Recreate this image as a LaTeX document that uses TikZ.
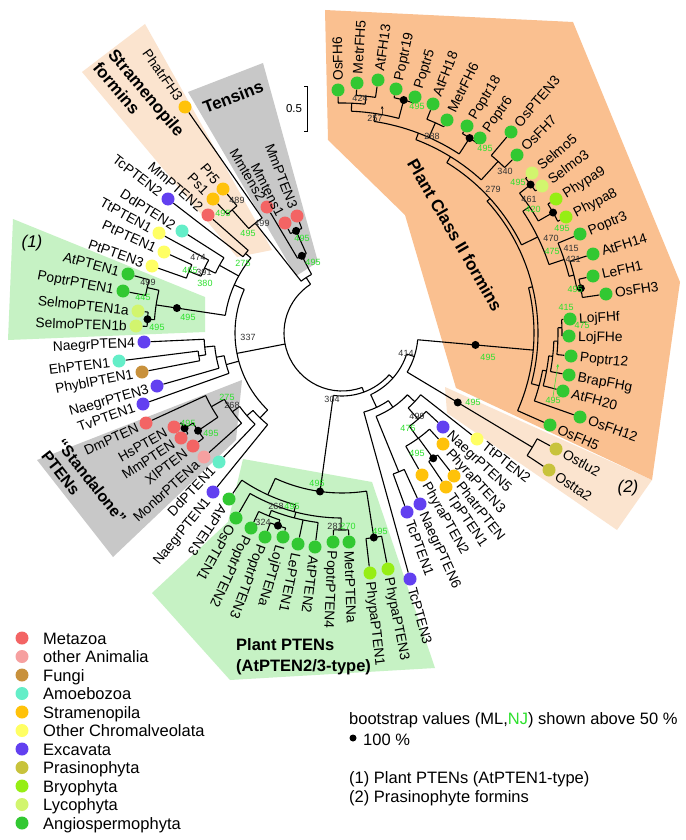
\documentclass[tikz,border=0pt]{standalone}
\usepackage{fontspec}
\setmainfont{Liberation Sans}
\usetikzlibrary{arrows.meta}
\pgfdeclarelayer{back}
\pgfdeclarelayer{mid}
\pgfsetlayers{back,mid,main}
\definecolor{cMet}{RGB}{243,100,100}
\definecolor{cOani}{RGB}{246,160,160}
\definecolor{cFun}{RGB}{200,145,60}
\definecolor{cAmo}{RGB}{100,238,200}
\definecolor{cStr}{RGB}{255,194,10}
\definecolor{cChr}{RGB}{255,255,100}
\definecolor{cExc}{RGB}{98,64,240}
\definecolor{cPra}{RGB}{200,195,60}
\definecolor{cBry}{RGB}{150,238,20}
\definecolor{cLyc}{RGB}{210,245,110}
\definecolor{cAng}{RGB}{50,200,50}
\definecolor{cNJ}{RGB}{45,225,45}
\definecolor{cOrange}{RGB}{250,192,144}
\definecolor{cPeach}{RGB}{251,228,207}
\definecolor{cGrey}{RGB}{200,200,200}
\definecolor{cLGreen}{RGB}{198,242,196}
\newcommand{\tcx}{342}
\newcommand{\tcy}{333}
\tikzset{
 tipdot/.style={circle,inner sep=0pt,minimum size=13pt,draw=none},
 bdot/.style={circle,inner sep=0pt,minimum size=8pt,fill=black},
 branch/.style={line width=1.1pt,black},
 leaflab/.style={inner sep=0pt,text height=9.9pt,text depth=0pt,font=\fontsize{13.8}{15}\selectfont},
 bs/.style={inner sep=0pt,font=\fontsize{9}{10}\selectfont,text=black!80},
 bsg/.style={bs,text=cNJ},
 legtxt/.style={inner sep=0pt,font=\fontsize{16.5}{19}\selectfont},
 grp/.style={inner sep=0pt,font=\bfseries\fontsize{17}{20}\selectfont},
}
\newcommand{\leaf}[5]{%
 \pgfmathsetmacro\la{atan2((#3)-\tcy,(#2)-\tcx)}%
 \pgfmathsetmacro\la{\la+360*((\la)<-100)}%
 \expandafter\xdef\csname NA#1\endcsname{\la}%
 \node[tipdot,fill=#4] (#1) at (#2,#3) {};%
 \ifdim\la pt<127pt
  \pgfmathsetmacro\rot{0-(\la)}%
  \node[leaflab,anchor=west,rotate=\rot] (lab#1) at ({#2+9*cos(\la)},{#3+9*sin(\la)}) {#5};%
 \else
  \pgfmathsetmacro\rot{180-(\la)}%
  \node[leaflab,anchor=east,rotate=\rot] (lab#1) at ({#2+9*cos(\la)},{#3+9*sin(\la)}) {#5};%
 \fi
}
\newcommand{\inode}[4][]{%
 \gdef\amin{1000}\gdef\amax{-1000}%
 \foreach \ch in {#4}{%
  \pgfmathsetmacro\tA{\csname NA\ch\endcsname}%
  \pgfmathsetmacro\mn{min(\amin,\tA)}\xdef\amin{\mn}%
  \pgfmathsetmacro\mx{max(\amax,\tA)}\xdef\amax{\mx}%
 }%
 \pgfmathsetmacro\amid{(\amin+\amax)/2}%
 \expandafter\xdef\csname NA#2\endcsname{\amid}%
 \coordinate (#2) at ({\tcx+#3*cos(\amid)},{\tcy+#3*sin(\amid)});%
 \begin{pgfonlayer}{mid}%
 \draw[branch] ({\tcx+#3*cos(\amin)},{\tcy+#3*sin(\amin)}) arc[start angle=\amin,end angle=\amax,radius=#3];%
 \foreach \ch in {#4}{%
  \pgfmathsetmacro\tA{\csname NA\ch\endcsname}%
  \draw[branch] ({\tcx+#3*cos(\tA)},{\tcy+#3*sin(\tA)}) -- (\ch);%
 }%
 \end{pgfonlayer}%
 \ifx\relax#1\relax\else\node[bdot] (d#2) at (#2) {};\fi
}
\newcommand{\sdot}[2]{%
 \pgfmathsetmacro\sa{\csname NA#1\endcsname}%
 \node[bdot] (s#1) at ({\tcx+#2*cos(\sa)},{\tcy+#2*sin(\sa)}) {};%
}
\begin{document}
\begin{tikzpicture}[x=1pt,y=-1pt]
\useasboundingbox (0,0) rectangle (685,840);
\begin{pgfonlayer}{back}
\fill[white] (0,0) rectangle (685,840);
\fill[cPeach] (445,387) -- (652,480) -- (617,530) -- (447,413) -- cycle;
\fill[cOrange] (325,10) -- (573,22) -- (680,282) -- (652,480) -- (456,388) -- (405,215) -- (328,140) -- cycle;
\fill[cPeach] (82,72) -- (145,24) -- (272,250) -- (237,257) -- cycle;
\fill[cGrey] (188,92) -- (263,63) -- (318,262) -- (296,276) -- cycle;
\fill[cLGreen] (13,219) -- (205,297) -- (205,332) -- (8,340) -- cycle;
\fill[cGrey] (37,460) -- (242,380) -- (236,440) -- (113,557) -- cycle;
\fill[cLGreen] (243,459) -- (372,482) -- (435,668) -- (230,680) -- (152,593) -- (228,522) -- cycle;
\end{pgfonlayer}

% leaves
\leaf{OsFHsix}{338}{90}{cAng}{OsFH6}
\leaf{MetrFHfive}{357}{83}{cAng}{MetrFH5}
\leaf{AtFHthirteen}{378}{80}{cAng}{AtFH13}
\leaf{Poptrnineteen}{396}{89}{cAng}{Poptr19}
\leaf{Poptrfive}{415}{97}{cAng}{Poptr5}
\leaf{AtFHeighteen}{433}{104}{cAng}{AtFH18}
\leaf{MetrFHsix}{447}{120}{cAng}{MetrFH6}
\leaf{Poptreighteen}{467}{126}{cAng}{Poptr18}
\leaf{Poptrsix}{480}{138}{cAng}{Poptr6}
\leaf{OsPTENthree}{511}{132}{cAng}{OsPTEN3}
\leaf{OsFHseven}{517}{155}{cAng}{OsFH7}
\leaf{Selmofive}{532}{173}{cLyc}{Selmo5}
\leaf{Selmothree}{542}{186}{cLyc}{Selmo3}
\leaf{Phypanine}{556}{199}{cBry}{Phypa9}
\leaf{Phypaeight}{566}{217}{cBry}{Phypa8}
\leaf{Poptrthree}{580}{234}{cAng}{Poptr3}
\leaf{AtFHfourteen}{593}{254}{cAng}{AtFH14}
\leaf{LeFHone}{593}{276}{cAng}{LeFH1}
\leaf{OsFHthree}{606}{294}{cAng}{OsFH3}
\leaf{LojFHf}{570}{319}{cAng}{LojFHf}
\leaf{LojFHe}{569}{336}{cAng}{LojFHe}
\leaf{Poptrtwelve}{571}{356}{cAng}{Poptr12}
\leaf{BrapFHg}{569}{375}{cAng}{BrapFHg}
\leaf{AtFHtwenty}{563}{391}{cAng}{AtFH20}
\leaf{OsFHtwelve}{580}{417}{cAng}{OsFH12}
\leaf{OsFHfive}{550}{425}{cAng}{OsFH5}
\leaf{Ostlutwo}{556}{449}{cPra}{Ostlu2}
\leaf{Osttatwo}{549}{470}{cPra}{Ostta2}
\leaf{TtPTENtwo}{477}{439}{cChr}{TtPTEN2}
\leaf{NaegrPTENfive}{443}{427}{cExc}{NaegrPTEN5}
\leaf{PhyraPTENthree}{443}{444}{cStr}{PhyraPTEN3}
\leaf{PhatrPTEN}{454}{476}{cStr}{PhatrPTEN}
\leaf{TpPTENone}{446}{487}{cStr}{TpPTEN1}
\leaf{PhyraPTENtwo}{422}{475}{cStr}{PhyraPTEN2}
\leaf{NaegrPTENsix}{420}{504}{cExc}{NaegrPTEN6}
\leaf{TcPTENone}{407}{512}{cExc}{TcPTEN1}
\leaf{TcPTENthree}{410}{579}{cExc}{TcPTEN3}
\leaf{PhypaPTENthree}{388}{569}{cBry}{PhypaPTEN3}
\leaf{PhypaPTENone}{370}{573}{cBry}{PhypaPTEN1}
\leaf{MetrPTENa}{349}{542}{cAng}{MetrPTENa}
\leaf{PoptrPTENfour}{333}{542}{cAng}{PoptrPTEN4}
\leaf{AtPTENtwo}{315}{547}{cAng}{AtPTEN2}
\leaf{LePTENone}{298}{544}{cAng}{LePTEN1}
\leaf{LojPTENa}{283}{537}{cAng}{LojPTENa}
\leaf{PoptrPTENthree}{265}{537}{cAng}{PoptrPTEN3}
\leaf{PoptrPTENtwo}{251}{528}{cAng}{PoptrPTEN2}
\leaf{OsPTENone}{236}{518}{cAng}{OsPTEN1}
\leaf{AtPTENthree}{229}{499}{cAng}{AtPTEN3}
\leaf{NaegrPTENone}{213}{492}{cExc}{NaegrPTEN1}
\leaf{DdPTENone}{219}{462}{cAmo}{DdPTEN1}
\leaf{MonbrPTENa}{204}{457}{cOani}{MonbrPTENa}
\leaf{XlPTEN}{193}{446}{cMet}{XlPTEN}
\leaf{MmPTEN}{181}{438}{cMet}{MmPTEN}
\leaf{HsPTEN}{174}{427}{cMet}{HsPTEN}
\leaf{DmPTEN}{146}{423}{cMet}{DmPTEN}
\leaf{TvPTENone}{143}{404}{cExc}{TvPTEN1}
\leaf{NaegrPTENthree}{157}{386}{cExc}{NaegrPTEN3}
\leaf{PhyblPTENone}{142}{372}{cFun}{PhyblPTEN1}
\leaf{EhPTENone}{119}{361}{cAmo}{EhPTEN1}
\leaf{NaegrPTENfour}{144}{342}{cExc}{NaegrPTEN4}
\leaf{SelmoPTENoneb}{136}{326}{cLyc}{SelmoPTEN1b}
\leaf{SelmoPTENonea}{138}{311}{cLyc}{SelmoPTEN1a}
\leaf{PoptrPTENone}{123}{291}{cAng}{PoptrPTEN1}
\leaf{AtPTENone}{128}{274}{cAng}{AtPTEN1}
\leaf{PtPTENthree}{152}{266}{cChr}{PtPTEN3}
\leaf{PtPTENone}{164}{252}{cChr}{PtPTEN1}
\leaf{TtPTENone}{159}{233}{cChr}{TtPTEN1}
\leaf{DdPTENtwo}{182}{231}{cAmo}{DdPTEN2}
\leaf{TcPTENtwo}{168}{199}{cExc}{TcPTEN2}
\leaf{MmPTENtwo}{208}{215}{cMet}{MmPTEN2}
\leaf{Psone}{213}{199}{cStr}{Ps1}
\leaf{Prfive}{223}{189}{cStr}{Pr5}
\leaf{PhatrFHthree}{185}{107}{cStr}{PhatrFH3}
\leaf{Mmtenstwo}{267}{207}{cMet}{Mmtens2}
\leaf{Mmtensone}{285}{223}{cMet}{Mmtens1}
\leaf{MmPTENthree}{297}{216}{cMet}{MmPTEN3}

% tensins and stramenopile formins
\inode[b]{nTone}{112}{Mmtensone,MmPTENthree}
\inode[b]{nTtwo}{87}{Mmtenstwo,nTone}
\inode{nSone}{165}{Psone,Prfive}
\inode{nStwo}{140}{nSone,PhatrFHthree}
\inode{nXone}{66}{nStwo,nTtwo}
% left part
\inode{tm}{125}{TcPTENtwo,MmPTENtwo}
\inode{cione}{165}{PtPTENthree,PtPTENone}
\inode{citwo}{152}{cione,TtPTENone}
\inode{cithree}{140}{citwo,DdPTENtwo}
\inode[b]{conea}{195}{SelmoPTENoneb,SelmoPTENonea}
\inode{coneb}{200}{PoptrPTENone,AtPTENone}
\inode{conec}{188}{conea,coneb}
\sdot{conec}{167}
\inode{Lone}{118}{conec,cithree,tm}
\inode{eone}{145}{PhyblPTENone,EhPTENone}
\inode{etwo}{138}{eone,NaegrPTENfour}
\inode{ethree}{128}{NaegrPTENthree,etwo}
\inode{efour}{120}{TvPTENone,ethree}
\inode[b]{mone}{184}{MmPTEN,HsPTEN}
\inode[b]{mtwo}{174}{XlPTEN,mone}
\inode{mthree}{150}{mtwo,DmPTEN}
\inode{mfour}{135}{MonbrPTENa,mthree}
\inode{mfive}{126}{DdPTENone,mfour}
\inode{msix}{118}{NaegrPTENone,mfive}
\inode{nthreethreeseven}{107}{msix,efour,Lone}
% plant PTENs
\inode[b]{nQtwo}{203}{PoptrPTENthree,LojPTENa}
\inode{nQthree}{197}{PoptrPTENtwo,nQtwo}
\inode{nQfour}{191}{AtPTENtwo,LePTENone,nQthree}
\inode{nQfive}{197}{MetrPTENa,PoptrPTENfour}
\inode{nQsix}{185}{nQfive,nQfour,OsPTENone}
\inode{nQseven}{178}{nQsix,AtPTENthree}
\inode[b]{nQeight}{207}{PhypaPTENthree,PhypaPTENone}
\inode[b]{nQnine}{160}{nQeight,nQseven}
% right-bottom
\inode[b]{rone}{155}{PhatrPTEN,TpPTENone}
\inode{rtwo}{130}{PhyraPTENthree,rone,PhyraPTENtwo}
\inode{rthree}{115}{NaegrPTENfive,rtwo}
\inode{rfour}{100}{TtPTENtwo,rthree}
\inode{rfive}{150}{NaegrPTENsix,TcPTENone}
\inode{rsix}{90}{rfour,rfive}
\inode{rseven}{82}{rsix,TcPTENthree}
% formins
\inode{fa}{238}{MetrFHfive,AtFHthirteen}
\inode{fb}{230}{OsFHsix,fa}
\inode[b]{fc}{241}{Poptrnineteen,Poptrfive}
\inode{fone}{222}{fb,fc}
\inode{fd}{230}{AtFHeighteen,MetrFHsix}
\inode[b]{fe}{233}{Poptreighteen,Poptrsix}
\inode{ftwo}{214}{fone,fd,fe}
\inode{ff}{232}{OsPTENthree,OsFHseven}
\inode{fthree}{207}{ftwo,ff}
\inode[b]{fg}{240}{Selmofive,Selmothree}
\inode[b]{fh}{243}{Phypanine,Phypaeight}
\inode{ffour}{226}{fg,fh}
\inode[b]{fione}{243}{LeFHone,OsFHthree}
\inode{fitwo}{239}{AtFHfourteen,fione}
\inode{fithree}{234}{Poptrthree,fitwo}
\inode{ffive}{218}{ffour,fithree}
\inode{fsix}{200}{fthree,ffive}
\inode{fj}{220}{LojFHf,LojFHe}
\inode{fk}{216}{fj,Poptrtwelve}
\inode{fl}{212}{fk,BrapFHg}
\inode{fm}{208}{fl,AtFHtwenty}
\inode{fn}{204}{fm,OsFHtwelve}
\inode{fseven}{196}{fsix,fn}
\inode{feight}{192}{fseven,OsFHfive}
\inode{pone}{222}{Ostlutwo,Osttatwo}
\inode{nfouronefour}{76}{feight,pone}
\sdot{feight}{134}
\sdot{pone}{135}
\inode{nB}{68}{nfouronefour,rseven}
\inode{nthreezerofour}{63}{nB,nQnine}
\inode{root}{58}{nthreezerofour,nthreethreeseven,nXone}

% bootstrap values
\foreach \x/\y/\t [count=\i] in {360/98/424,375/118/257,432/136/288,505/171/340,493/189/279,529/199/461,551/238/470,571/248/415,573/259/421,406/353/414,332/399/304,248/337/337,417/416/499,262/223/499,237/200/489,198/257/474,204/272/391,148/282/499,232/405/268,276/506/268,263/522/324,335/526/281}
  \node[bs] (bk\i) at (\x,\y) {\t};
\foreach \x/\y/\t [count=\i] in {417/106/495,485/148/495,518/182/495,533/209/420,562/228/495,552/251/475,575/289/495,566/307/415,582/325/475,553/400/495,488/357/495,473/402/495,408/428/475,417/453/495,317/483/495,292/506/495,348/526/270,380/531/495,248/233/495,223/213/495,302/238/495,313/262/495,243/263/275,190/270/465,205/283/380,143/297/445,188/317/495,157/327/495,188/423/495,211/433/495,227/397/275}
  \node[bsg] (bg\i) at (\x,\y) {\t};
\coordinate (arA) at (382,106);
\draw[line width=0.5pt,-{Stealth[length=3pt,width=2.5pt]}] (bk2.north east) -- (arA);
\coordinate (arB) at (558,364);
\draw[cNJ,line width=0.5pt,-{Stealth[length=3pt,width=2.5pt]}] (bg10.north) -- (arB);

% scale bar
\coordinate (sbA) at (304,86);
\coordinate (sbB) at (307,86);
\coordinate (sbC) at (307,131);
\coordinate (sbD) at (304,131);
\draw[line width=0.9pt] (sbA) -- (sbB) -- (sbC) -- (sbD);
\node[inner sep=0pt,font=\fontsize{11.5}{12}\selectfont] (sbl) at (294,109) {0.5};

% group labels
\node[grp,rotate=21] (gTen) at (233,97) {Tensins};
\node[grp,rotate=-50,align=left] (gStr) at (139,99) {Stramenopile\\formins};
\node[grp,rotate=-60] (gPlant) at (455,235) {Plant Class II formins};
\node[grp,rotate=-52,align=left,font=\bfseries\fontsize{16}{19}\selectfont] (gStd) at (84,487) {“Standalone”\\PTENs};
\node[grp,anchor=base west,font=\bfseries\fontsize{16.5}{19}\selectfont] (gPa) at (236,650) {Plant PTENs};
\node[grp,anchor=base west,font=\bfseries\fontsize{16.5}{19}\selectfont] (gPb) at (236,671) {(AtPTEN2/3-type)};
\node[inner sep=0pt,font=\itshape\fontsize{17}{20}\selectfont] (gone) at (32,243) {(1)};
\node[inner sep=0pt,font=\itshape\fontsize{17}{20}\selectfont] (gtwo) at (628,488) {(2)};

% legend
\foreach \col/\txt [count=\i from 0] in {cMet/Metazoa,cOani/other Animalia,cFun/Fungi,cAmo/Amoebozoa,cStr/Stramenopila,cChr/Other Chromalveolata,cExc/Excavata,cPra/Prasinophyta,cBry/Bryophyta,cLyc/Lycophyta,cAng/Angiospermophyta}{
  \node[tipdot,fill=\col] (lg\i) at (22,{638+18.5*\i}) {};
  \node[legtxt,anchor=base west] (lt\i) at (43,{644+18.5*\i}) {\txt};
}
\node[legtxt,anchor=base west] (bstext) at (349,724) {bootstrap values (ML,\textcolor{cNJ}{NJ}) shown above 50 \%};
\node[bdot,minimum size=7pt] (legdot) at (353,738) {};
\node[legtxt,anchor=base west] (lhund) at (363,745) {100 \%};
\node[legtxt,anchor=base west] (lone) at (349,783) {(1) Plant PTENs (AtPTEN1-type)};
\node[legtxt,anchor=base west] (ltwo) at (349,802) {(2) Prasinophyte formins};
\end{tikzpicture}
\end{document}
